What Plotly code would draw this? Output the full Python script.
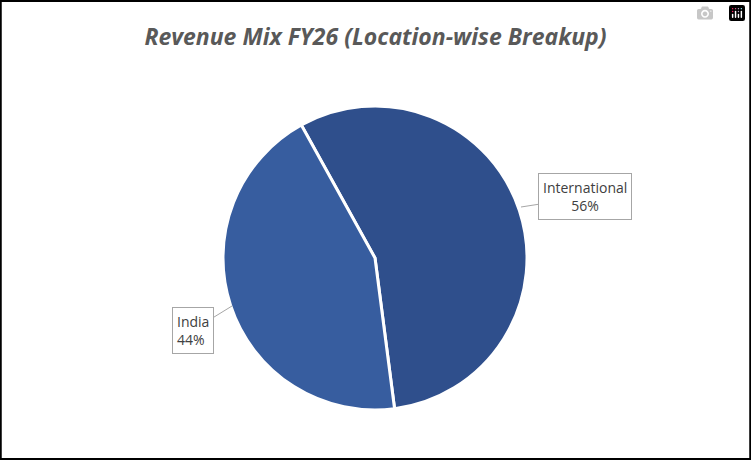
import plotly.graph_objects as go

labels = ['International', 'India']
values = [56, 44]
colors = ['#2f4f8c', '#375d9f']

W, H = 751, 460

fig = go.Figure()
fig.add_trace(go.Pie(
    labels=labels,
    values=values,
    sort=False,
    direction='clockwise',
    rotation=-29,
    marker=dict(colors=colors, line=dict(color='white', width=3)),
    textinfo='none',
    hoverinfo='label+percent',
    showlegend=False,
    domain=dict(x=[223 / W, 527 / W], y=[1 - 410 / H, 1 - 106 / H]),
))

def px(x, y):
    return x / W, 1 - y / H

# callout labels
callouts = [
    (labels[0], values[0], (521, 207), 64, -10),
    (labels[1], values[1], (232, 306), -39, 24),
]
for name, val, (x, y), ax, ay in callouts:
    xx, yy = px(x, y)
    fig.add_annotation(
        x=xx, y=yy, xref='paper', yref='paper',
        ax=ax, ay=ay,
        text=f'{name}<br>{val}%',
        showarrow=True, arrowhead=0, arrowwidth=1, arrowcolor='#a6a6a6',
        bordercolor='#a6a6a6', borderwidth=1, borderpad=4,
        bgcolor='white',
        font=dict(family='Open Sans', size=14, color='#404040'),
        align='center' if name == 'International' else 'left',
    )

fig.add_shape(type='rect', xref='paper', yref='paper', x0=0.001, y0=0.002, x1=0.999, y1=0.998,
              line=dict(color='black', width=2))

fig.update_layout(
    title=dict(text='<b><i>Revenue Mix FY26 (Location-wise Breakup)</i></b>',
               x=0.5, y=0.92, xanchor='center', yanchor='middle',
               font=dict(family='Open Sans', size=23, color='#595959')),
    width=W, height=H,
    margin=dict(l=0, r=0, t=0, b=0),
    paper_bgcolor='white',
)

fig.write_html("out.html",
               post_script="document.body.style.margin='0';document.body.style.overflow='hidden';")
